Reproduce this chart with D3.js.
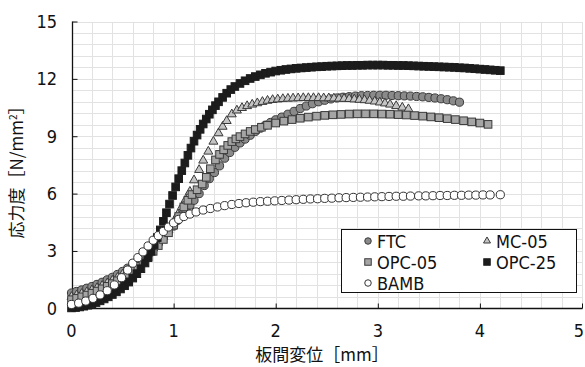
<!DOCTYPE html>
<html>
<head>
<meta charset="utf-8">
<script src="https://cdn.jsdelivr.net/npm/d3@7"></script>
<style>
  body { margin: 0; background: #fff; }
  svg { display: block; }
  .tick-label { font-family: "Liberation Sans Narrow", "DejaVu Sans Condensed", sans-serif; font-size: 18px; fill: #111; }
  .title { font-family: "Noto Sans CJK JP", sans-serif; font-size: 17px; fill: #111; }
</style>
</head>
<body>
<svg id="chart" width="585" height="367"></svg>
<script>
// ==== Data (displacement mm, stress N/mm2) ====
const xTicks = [0, 1, 2, 3, 4, 5];
const yTicks = [0, 3, 6, 9, 12, 15];

const ftc = [[0,0.8],[0.05,0.88],[0.1,0.96],[0.15,1.05],[0.2,1.14],[0.25,1.25],[0.3,1.36],[0.35,1.49],[0.4,1.62],[0.45,1.77],[0.5,1.93],[0.55,2.1],[0.6,2.28],[0.65,2.48],[0.7,2.7],[0.75,2.93],[0.8,3.17],[0.85,3.42],[0.9,3.7],[0.95,4.0],[1.0,4.3],[1.04,4.6],[1.08,4.9],[1.12,5.15],[1.16,5.4],[1.2,5.65],[1.25,6.0],[1.3,6.42],[1.35,6.78],[1.4,7.1],[1.45,7.45],[1.5,7.85],[1.55,8.15],[1.6,8.42],[1.65,8.65],[1.7,8.85],[1.75,9.05],[1.8,9.25],[1.85,9.42],[1.9,9.58],[1.95,9.72],[2.0,9.86],[2.06,10.0],[2.12,10.15],[2.18,10.3],[2.24,10.45],[2.3,10.58],[2.36,10.7],[2.42,10.8],[2.48,10.88],[2.54,10.95],[2.6,11.0],[2.66,11.04],[2.72,11.07],[2.78,11.1],[2.84,11.12],[2.9,11.13],[2.96,11.14],[3.02,11.14],[3.08,11.14],[3.14,11.13],[3.2,11.12],[3.26,11.11],[3.32,11.1],[3.38,11.08],[3.44,11.06],[3.5,11.03],[3.56,11.0],[3.62,10.96],[3.68,10.91],[3.74,10.85],[3.8,10.78]];

const mc05 = [[0,0.6],[0.05,0.68],[0.1,0.76],[0.15,0.85],[0.2,0.95],[0.25,1.06],[0.3,1.18],[0.35,1.31],[0.4,1.45],[0.45,1.6],[0.5,1.77],[0.55,1.95],[0.6,2.15],[0.65,2.37],[0.7,2.6],[0.75,2.86],[0.8,3.14],[0.85,3.44],[0.9,3.75],[0.95,4.1],[1.0,4.5],[1.04,4.9],[1.08,5.3],[1.12,5.7],[1.16,6.1],[1.2,6.7],[1.25,7.24],[1.29,7.73],[1.34,8.2],[1.39,8.72],[1.44,9.16],[1.48,9.5],[1.52,9.8],[1.57,10.15],[1.62,10.35],[1.67,10.48],[1.72,10.58],[1.77,10.66],[1.82,10.73],[1.87,10.8],[1.92,10.86],[1.97,10.9],[2.02,10.93],[2.07,10.95],[2.12,10.97],[2.17,10.98],[2.22,10.99],[2.27,11.0],[2.32,11.0],[2.37,11.0],[2.42,11.0],[2.47,10.99],[2.52,10.99],[2.57,10.98],[2.62,10.97],[2.67,10.96],[2.72,10.95],[2.77,10.93],[2.82,10.91],[2.87,10.89],[2.92,10.86],[2.97,10.82],[3.02,10.77],[3.07,10.72],[3.12,10.66],[3.18,10.58],[3.24,10.5],[3.3,10.42]];

const opc05 = [[0,0.45],[0.05,0.52],[0.1,0.6],[0.15,0.69],[0.2,0.79],[0.25,0.9],[0.3,1.02],[0.35,1.15],[0.4,1.29],[0.45,1.44],[0.5,1.6],[0.55,1.78],[0.6,1.98],[0.65,2.2],[0.7,2.44],[0.75,2.7],[0.8,2.98],[0.85,3.28],[0.9,3.6],[0.95,3.95],[1.0,4.35],[1.05,4.8],[1.1,5.3],[1.14,5.65],[1.18,5.95],[1.23,6.2],[1.28,6.5],[1.32,6.85],[1.36,7.3],[1.41,7.76],[1.45,8.05],[1.49,8.29],[1.53,8.52],[1.57,8.72],[1.61,8.86],[1.65,8.98],[1.7,9.12],[1.75,9.25],[1.8,9.35],[1.86,9.47],[1.92,9.57],[2.0,9.69],[2.08,9.79],[2.16,9.87],[2.24,9.94],[2.32,10.0],[2.4,10.05],[2.48,10.09],[2.56,10.12],[2.64,10.14],[2.72,10.16],[2.8,10.17],[2.88,10.17],[2.96,10.17],[3.04,10.16],[3.12,10.15],[3.2,10.13],[3.28,10.11],[3.36,10.08],[3.44,10.05],[3.52,10.01],[3.6,9.97],[3.68,9.92],[3.76,9.87],[3.84,9.81],[3.92,9.75],[4.0,9.69],[4.08,9.62]];

const opc25 = [[0,0.02],[0.04,0.04],[0.08,0.07],[0.12,0.11],[0.16,0.16],[0.2,0.22],[0.24,0.3],[0.28,0.39],[0.32,0.49],[0.36,0.6],[0.4,0.72],[0.44,0.86],[0.48,1.01],[0.52,1.18],[0.56,1.37],[0.6,1.58],[0.64,1.81],[0.68,2.07],[0.72,2.37],[0.75,2.65],[0.78,2.98],[0.81,3.33],[0.84,3.7],[0.87,4.1],[0.9,4.55],[0.93,5.0],[0.96,5.45],[0.99,5.9],[1.02,6.35],[1.05,6.78],[1.08,7.2],[1.11,7.6],[1.14,8.0],[1.17,8.38],[1.2,8.74],[1.23,9.06],[1.26,9.36],[1.29,9.64],[1.32,9.9],[1.35,10.15],[1.38,10.38],[1.41,10.6],[1.44,10.8],[1.48,11.03],[1.52,11.25],[1.56,11.44],[1.6,11.6],[1.65,11.76],[1.7,11.9],[1.75,12.02],[1.8,12.12],[1.85,12.21],[1.9,12.29],[1.95,12.35],[2.0,12.41],[2.05,12.45],[2.1,12.49],[2.15,12.52],[2.2,12.55],[2.25,12.57],[2.3,12.59],[2.35,12.61],[2.4,12.63],[2.45,12.64],[2.5,12.66],[2.55,12.67],[2.6,12.68],[2.65,12.69],[2.7,12.7],[2.75,12.7],[2.8,12.71],[2.85,12.71],[2.9,12.72],[2.95,12.72],[3.0,12.72],[3.05,12.72],[3.1,12.71],[3.15,12.71],[3.2,12.7],[3.25,12.7],[3.3,12.69],[3.35,12.68],[3.4,12.67],[3.45,12.66],[3.5,12.65],[3.55,12.64],[3.6,12.63],[3.65,12.62],[3.7,12.61],[3.75,12.6],[3.8,12.58],[3.85,12.57],[3.9,12.55],[3.95,12.53],[4.0,12.51],[4.05,12.49],[4.1,12.47],[4.15,12.45],[4.2,12.43]];

const bamb = [[0,0.2],[0.07,0.27],[0.14,0.38],[0.21,0.52],[0.28,0.7],[0.35,0.92],[0.42,1.22],[0.49,1.6],[0.55,2.0],[0.6,2.36],[0.65,2.65],[0.7,2.95],[0.75,3.26],[0.8,3.56],[0.85,3.8],[0.9,4.02],[0.95,4.25],[1.0,4.47],[1.05,4.65],[1.1,4.8],[1.16,4.93],[1.22,5.04],[1.29,5.14],[1.36,5.22],[1.43,5.3],[1.5,5.37],[1.57,5.43],[1.64,5.48],[1.71,5.52],[1.78,5.55],[1.85,5.58],[1.92,5.6],[1.99,5.62],[2.06,5.64],[2.13,5.66],[2.2,5.68],[2.27,5.7],[2.34,5.72],[2.41,5.73],[2.48,5.75],[2.55,5.76],[2.62,5.78],[2.69,5.79],[2.76,5.8],[2.83,5.81],[2.9,5.82],[2.97,5.83],[3.04,5.84],[3.11,5.85],[3.18,5.86],[3.25,5.86],[3.32,5.87],[3.4,5.88],[3.47,5.88],[3.54,5.89],[3.61,5.9],[3.68,5.9],[3.75,5.91],[3.82,5.91],[3.89,5.92],[3.96,5.92],[4.03,5.93],[4.1,5.93],[4.2,5.94]];

// series in drawing order (later ones on top, as in the source)
const seriesNames = ["FTC", "MC-05", "OPC-05", "OPC-25", "BAMB"];
const seriesData = [ftc, mc05, opc05, opc25, bamb];

// ==== Styles ====
const style = {
  "FTC":    { shape: "circle",   fill: "#8a8a8a", stroke: "#3a3a3a" },
  "MC-05":  { shape: "triangle", fill: "#c4c4c4", stroke: "#3a3a3a" },
  "OPC-05": { shape: "square",   fill: "#a5a5a5", stroke: "#3a3a3a" },
  "OPC-25": { shape: "square",   fill: "#1c1c1c", stroke: "#1c1c1c" },
  "BAMB":   { shape: "circle",   fill: "#ffffff", stroke: "#333333" }
};

// ==== Layout ====
const W = 585, H = 367;
const M = { left: 71.5, right: 3, top: 21.5, bottom: 58.7 };
const svg = d3.select("#chart");

const x = d3.scaleLinear().domain([0, 5]).range([M.left, W - M.right]);
const y = d3.scaleLinear().domain([0, 15]).range([H - M.bottom, M.top]);

// ---- grid ----
const gGrid = svg.append("g").attr("shape-rendering", "crispEdges");
gGrid.selectAll("line.vx").data(d3.range(0, 26).map(i => i * 0.2))
  .join("line")
  .attr("x1", d => Math.round(x(d)) + 0.5).attr("x2", d => Math.round(x(d)) + 0.5)
  .attr("y1", y(15)).attr("y2", y(0))
  .attr("stroke", "#e2e2e2").attr("stroke-width", 1);
gGrid.selectAll("line.hy").data(d3.range(0, 26).map(i => i * 0.6))
  .join("line")
  .attr("y1", d => Math.round(y(d)) + 0.5).attr("y2", d => Math.round(y(d)) + 0.5)
  .attr("x1", x(0)).attr("x2", x(5))
  .attr("stroke", "#e2e2e2").attr("stroke-width", 1);

// ---- axes (ticks point inward) ----
const gx = svg.append("g")
  .attr("transform", `translate(0,${Math.round(y(0)) + 0.5})`)
  .call(d3.axisTop(x).tickValues(xTicks).tickSize(5).tickFormat(""));
gx.select(".domain").remove();
gx.selectAll("line").attr("stroke", "#111");
svg.append("line")
  .attr("x1", x(0)).attr("x2", x(5) + 0.5)
  .attr("y1", Math.round(y(0)) + 0.5).attr("y2", Math.round(y(0)) + 0.5)
  .attr("stroke", "#111").attr("stroke-width", 1.3);

const gy = svg.append("g")
  .attr("transform", `translate(${Math.round(x(0)) + 0.5},0)`)
  .call(d3.axisRight(y).tickValues(yTicks).tickSize(5).tickFormat(""));
gy.select(".domain").remove();
gy.selectAll("line").attr("stroke", "#111");
svg.append("line")
  .attr("x1", Math.round(x(0)) + 0.5).attr("x2", Math.round(x(0)) + 0.5)
  .attr("y1", y(15)).attr("y2", y(0))
  .attr("stroke", "#111").attr("stroke-width", 1.3);

// tick labels
svg.append("g").selectAll("text").data(xTicks).join("text")
  .attr("class", "tick-label")
  .attr("x", d => Math.min(x(d), 579)).attr("y", 337)
  .attr("text-anchor", "middle")
  .text(d => d);
svg.append("g").selectAll("text").data(yTicks).join("text")
  .attr("class", "tick-label")
  .attr("x", 57).attr("y", d => y(d) + 6.5)
  .attr("text-anchor", "end")
  .text(d => d);

// axis titles
svg.append("text").attr("class", "title")
  .attr("x", 322).attr("y", 361).attr("text-anchor", "middle")
  .text("板間変位［mm］");

const yt = svg.append("text").attr("class", "title")
  .attr("transform", "translate(23,168) rotate(-90)")
  .attr("text-anchor", "middle");
yt.append("tspan").text("応力度［N/mm");
yt.append("tspan").attr("dy", -6).attr("font-size", 10).text("2");
yt.append("tspan").attr("dy", 6).text("］");

// ==== markers ====
function drawMarker(sel, shape, size) {
  // size = nominal width in px
  if (shape === "circle") {
    sel.append("circle").attr("r", size / 2);
  } else if (shape === "square") {
    sel.append("rect").attr("x", -size / 2).attr("y", -size / 2)
      .attr("width", size).attr("height", size);
  } else {
    sel.append("path").attr("d", d3.symbol(d3.symbolTriangle, size * size * 0.43)());
  }
}

const gPlot = svg.append("g");
seriesNames.forEach((name, i) => {
  const st = style[name];
  const g = gPlot.append("g")
    .attr("fill", st.fill).attr("stroke", st.stroke).attr("stroke-width", 1);
  g.selectAll("g").data(seriesData[i]).join("g")
    .attr("transform", d => `translate(${x(d[0])},${y(d[1])})`)
    .each(function () {
      drawMarker(d3.select(this), st.shape, st.shape === "circle" ? 8.2 : (st.shape === "square" ? 7.6 : 9));
    });
});

// ==== legend ====
const leg = svg.append("g");
leg.append("rect")
  .attr("x", 341.5).attr("y", 229.5).attr("width", 235).attr("height", 63)
  .attr("fill", "#fff").attr("stroke", "#111").attr("stroke-width", 1);

const legPos = [[368, 241], [487, 241], [368, 262], [487, 262], [368, 283]];
seriesNames.forEach((name, i) => {
  const st = style[name];
  const [lx, ly] = legPos[i];
  const g = leg.append("g").attr("transform", `translate(${lx},${ly})`)
    .attr("fill", st.fill).attr("stroke", st.stroke).attr("stroke-width", 1);
  drawMarker(g, st.shape, st.shape === "triangle" ? 7 : 6.5);
  leg.append("text").attr("class", "tick-label")
    .attr("x", lx + 9).attr("y", ly + 6.5)
    .text(name);
});
</script>
</body>
</html>
